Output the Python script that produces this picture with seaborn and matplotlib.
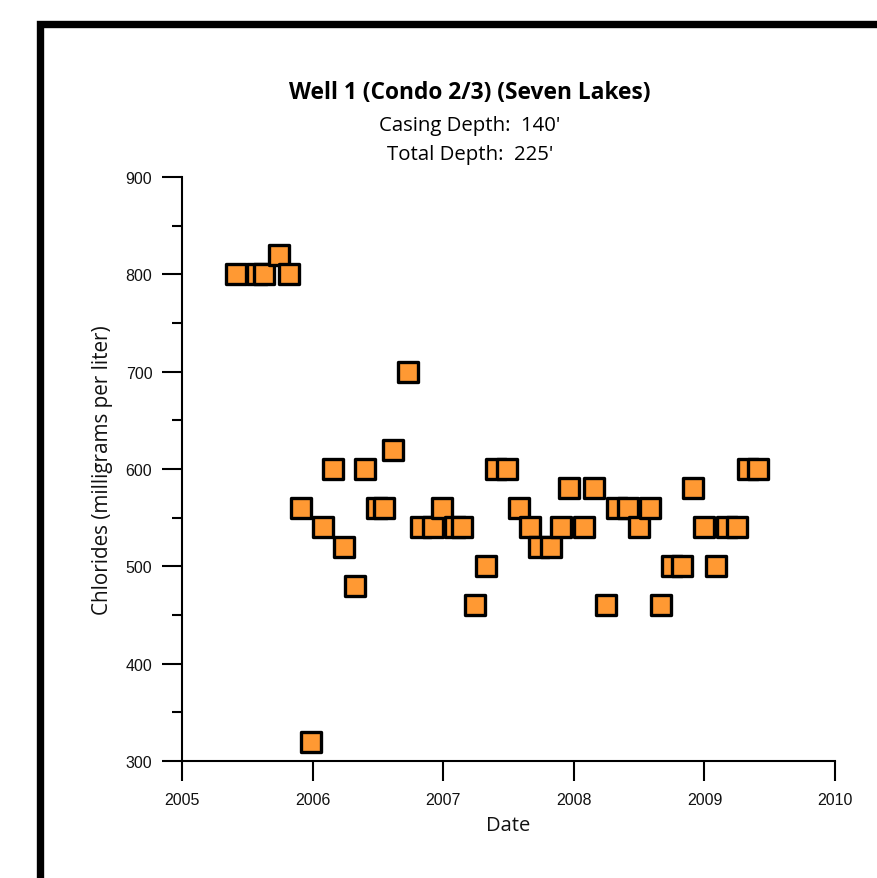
import matplotlib
matplotlib.use("Agg")
import matplotlib.pyplot as plt
import matplotlib.dates as mdates
from matplotlib.ticker import MultipleLocator
from matplotlib.patches import Rectangle
import seaborn as sns
import pandas as pd

# ---- data ----
dates = [
    "2005-05-31", "2005-07-31", "2005-08-17", "2005-09-28", "2005-10-26",
    "2005-11-29", "2005-12-29", "2006-01-29", "2006-02-26", "2006-03-29",
    "2006-04-29", "2006-05-29", "2006-06-29", "2006-07-21", "2006-08-15",
    "2006-09-26", "2006-10-30", "2006-12-05", "2006-12-30", "2007-02-02",
    "2007-02-24", "2007-03-30", "2007-04-30", "2007-05-30", "2007-06-30",
    "2007-07-31", "2007-08-31", "2007-09-27", "2007-10-31", "2007-11-28",
    "2007-12-18", "2008-01-29", "2008-02-28", "2008-03-31", "2008-05-01",
    "2008-06-01", "2008-07-01", "2008-08-01", "2008-09-01", "2008-10-02",
    "2008-10-29", "2008-11-29", "2008-12-30", "2009-02-01", "2009-03-04",
    "2009-04-01", "2009-05-02", "2009-05-30",
]
chlorides = [
    800, 800, 800, 820, 800,
    560, 320, 540, 600, 520,
    480, 600, 560, 560, 620,
    700, 540, 540, 560, 540,
    540, 460, 500, 600, 600,
    560, 540, 520, 520, 540,
    580, 540, 580, 460, 560,
    560, 540, 560, 460, 500,
    500, 580, 540, 500, 540,
    540, 600, 600,
]
title = "Well 1 (Condo 2/3) (Seven Lakes)"
subtitle1 = "Casing Depth:  140'"
subtitle2 = "Total Depth:  225'"
x_label = "Date"
y_label = "Chlorides (milligrams per liter)"
y_ticks = [300, 400, 500, 600, 700, 800, 900]
x_years = [2005, 2006, 2007, 2008, 2009, 2010]

df = pd.DataFrame({"date": pd.to_datetime(dates), "chlorides": chlorides})

sns.set_theme(style="white")
plt.rcParams["font.family"] = ["Liberation Sans", "DejaVu Sans"]

W, H = 878, 879
fig = plt.figure(figsize=(W / 100, H / 100), dpi=100)
fig.patch.set_facecolor("white")

ax = fig.add_axes([182 / W, 1 - 762 / H, (835 - 182) / W, (762 - 178) / H])
ax.set_facecolor("white")

sns.scatterplot(data=df, x="date", y="chlorides", marker="s", s=213,
                color="#FF9933", edgecolor="black", linewidth=2.4,
                ax=ax, zorder=3, clip_on=False, legend=False)

ax.set_xlim(pd.Timestamp(f"{x_years[0]}-01-01"), pd.Timestamp(f"{x_years[-1]}-01-01"))
ax.set_ylim(y_ticks[0], y_ticks[-1])
ax.xaxis.set_major_locator(mdates.YearLocator())
ax.xaxis.set_major_formatter(mdates.DateFormatter("%Y"))
ax.set_yticks(y_ticks)
ax.yaxis.set_minor_locator(MultipleLocator(50))

for s in ["top", "right"]:
    ax.spines[s].set_visible(False)
for s in ["left", "bottom"]:
    ax.spines[s].set_color("black")
    ax.spines[s].set_linewidth(1.5)

ax.tick_params(axis="x", which="major", direction="out", length=14.4, width=1.5,
               color="black", labelsize=11.5, pad=8, bottom=True, labelcolor="#111111")
ax.tick_params(axis="y", which="major", direction="out", length=14.4, width=1.5,
               color="black", labelsize=11.5, pad=7, left=True, labelcolor="#111111")
ax.tick_params(axis="y", which="minor", direction="out", length=7, width=1.5,
               color="black", left=True)
ax.grid(False)
ax.set_xlabel("")
ax.set_ylabel("")

tfont = ["Open Sans", "DejaVu Sans"]
cx = 470 / W
fig.text(cx, 1 - 93 / H, title, ha="center", va="center", fontsize=16.4,
         fontweight="bold", family=tfont, color="black")
fig.text(cx, 1 - 126 / H, subtitle1, ha="center", va="center", fontsize=14.7,
         family=tfont, color="black")
fig.text(cx, 1 - 155 / H, subtitle2, ha="center", va="center", fontsize=14.7,
         family=tfont, color="black")
fig.text(508.5 / W, 1 - 826 / H, x_label, ha="center", va="center", fontsize=14.5,
         family=tfont, color="#111111")
fig.text(103 / W, 1 - 470 / H, y_label, ha="center", va="center", fontsize=14.9,
         rotation=90, family=tfont, color="#111111")

# thick black frame (left and top edges visible)
fig.add_artist(Rectangle((39.7 / W, -0.5), 2.0, 1.5 - 24.7 / H,
                         transform=fig.transFigure, fill=False,
                         edgecolor="black", linewidth=5.3, clip_on=False))

fig.savefig("out.png", dpi=100, facecolor="white")
